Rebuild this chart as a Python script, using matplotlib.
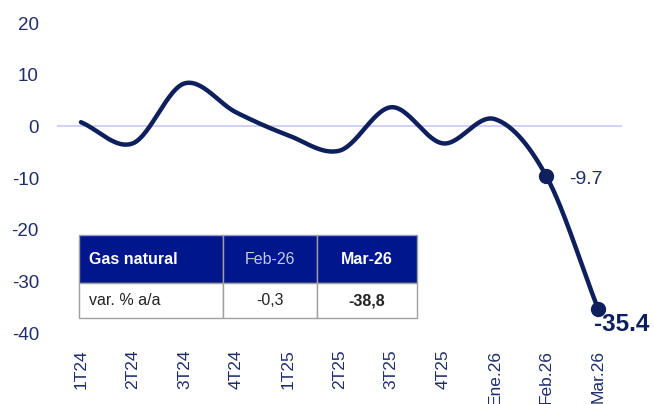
import numpy as np
import matplotlib
matplotlib.use("Agg")
import matplotlib.pyplot as plt
from matplotlib.patches import Rectangle

categories = ["1T24", "2T24", "3T24", "4T24", "1T25", "2T25", "3T25", "4T25",
              "Ene.26", "Feb.26", "Mar.26"]
values = [0.8, -3.3, 8.3, 2.7, -1.7, -4.7, 3.7, -3.3, 1.4, -9.7, -35.4]
yticks = [20, 10, 0, -10, -20, -30, -40]
table_header = ["Gas natural", "Feb-26", "Mar-26"]
table_row = ["var. % a/a", "-0,3", "-38,8"]

navy = "#0d1f5c"
text_c = "#1f2d6b"
plt.rcParams['font.family'] = ['Liberation Sans', 'DejaVu Sans']

fig = plt.figure(figsize=(6.54, 4.04), dpi=100)
ax = fig.add_axes([57/654, (404-333)/404, 565/654, 310/404])

x = np.arange(len(values), dtype=float)
y = np.array(values, dtype=float)

# Catmull-Rom smoothing for drawing
def catmull(xp, yp, n=30):
    P = np.column_stack([xp, yp])
    P = np.vstack([P[0] - (P[1]-P[0]), P, P[-1] + (P[-1]-P[-2])])
    out = []
    for i in range(1, len(P)-2):
        p0, p1, p2, p3 = P[i-1], P[i], P[i+1], P[i+2]
        t = np.linspace(0, 1, n, endpoint=False)[:, None]
        seg = 0.5*((2*p1) + (-p0+p2)*t + (2*p0-5*p1+4*p2-p3)*t**2 + (-p0+3*p1-3*p2+p3)*t**3)
        out.append(seg)
    out.append(P[-2][None, :])
    return np.vstack(out)

curve = catmull(x, y)
ax.axhline(0, color="#c8c8f2", lw=1.2, zorder=1)
ax.plot(curve[:, 0], curve[:, 1], color=navy, lw=3.2, solid_capstyle="round", zorder=3)
ax.plot(x[-2:], y[-2:], "o", color=navy, ms=10, zorder=4)

ax.annotate(f"{values[-2]:.1f}", (x[-2], y[-2]), xytext=(16, -2), textcoords="offset points",
            ha="left", va="center", fontsize=14, color=text_c)
ax.annotate(f"{values[-1]:.1f}", (x[-1], y[-1]), xytext=(-3, -11), textcoords="offset points",
            ha="left", va="center", fontsize=17.5, fontweight="bold", color=navy)

ax.set_xlim(-0.463, 10.46)
ax.set_ylim(-40, 20)
ax.set_yticks(yticks)
ax.set_yticklabels([str(t) for t in yticks])
ax.set_xticks(x)
ax.set_xticklabels(categories, rotation=90)
ax.tick_params(axis="both", length=0, colors=text_c)
ax.tick_params(axis="y", pad=13, labelsize=13.5)
ax.tick_params(axis="x", pad=12, labelsize=12.5)
for s in ax.spines.values():
    s.set_visible(False)

# Table in pixel coordinates
def px(xp, yp):
    return xp/654, (404-yp)/404

cols = [79, 223, 317, 417]
rows = [235, 283, 318]
hdr_blue = "#00168c"
for i in range(3):
    x0, x1 = cols[i], cols[i+1]
    bx, by = px(x0, rows[1])
    fig.patches.append(Rectangle((bx, by), (x1-x0)/654, (rows[1]-rows[0])/404,
                                 transform=fig.transFigure, facecolor=hdr_blue,
                                 edgecolor="#a0a0a0", lw=1, zorder=5))
    bx, by = px(x0, rows[2])
    fig.patches.append(Rectangle((bx, by), (x1-x0)/654, (rows[2]-rows[1])/404,
                                 transform=fig.transFigure, facecolor="white",
                                 edgecolor="#a0a0a0", lw=1, zorder=5))

hy = (rows[0]+rows[1])/2
ry = (rows[1]+rows[2])/2
fs = 11.5
fig.text(*px(89, hy), table_header[0], ha="left", va="center", fontsize=fs,
         fontweight="bold", color="white", zorder=6)
fig.text(*px((cols[1]+cols[2])/2, hy), table_header[1], ha="center", va="center",
         fontsize=fs, color="#c4cbe8", zorder=6)
fig.text(*px((cols[2]+cols[3])/2, hy), table_header[2], ha="center", va="center",
         fontsize=fs, fontweight="bold", color="white", zorder=6)
fig.text(*px(89, ry), table_row[0], ha="left", va="center", fontsize=fs,
         color="#222222", zorder=6)
fig.text(*px((cols[1]+cols[2])/2, ry), table_row[1], ha="center", va="center",
         fontsize=fs, color="#222222", zorder=6)
fig.text(*px((cols[2]+cols[3])/2, ry), table_row[2], ha="center", va="center",
         fontsize=fs, fontweight="bold", color="#222222", zorder=6)

fig.savefig("out.png", dpi=100)
